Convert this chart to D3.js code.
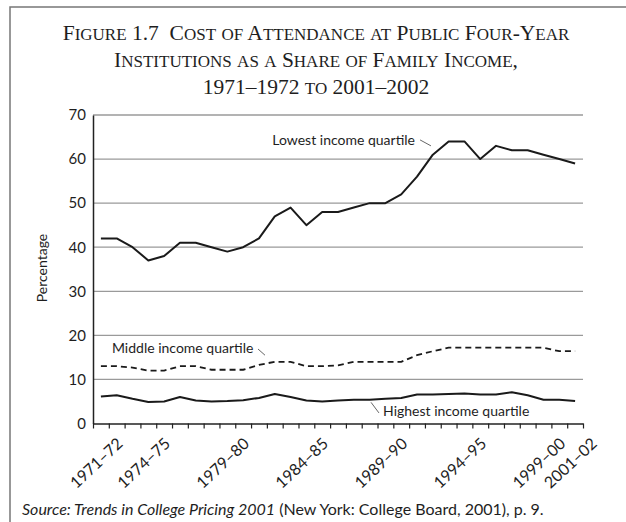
<!DOCTYPE html>
<html>
<head>
<meta charset="utf-8">
<script src="https://cdn.jsdelivr.net/npm/d3@7"></script>
<style>
  body { margin: 0; background: #fff; }
  svg text { fill: #1e1e1e; }
</style>
</head>
<body>
<div id="chart-container"></div>
<script>
// school years, 1971-72 .. 2001-02
var years = ["1971–72","1972–73","1973–74","1974–75","1975–76","1976–77","1977–78","1978–79",
    "1979–80","1980–81","1981–82","1982–83","1983–84","1984–85","1985–86","1986–87","1987–88",
    "1988–89","1989–90","1990–91","1991–92","1992–93","1993–94","1994–95","1995–96","1996–97",
    "1997–98","1998–99","1999–00","2000–01","2001–02"];

var lowest = [42,42,40,37,38,41,41,40,39,40,42,47,49,45,48,48,49,50,50,52,56,61,64,64,60,63,62,62,61,60,59];
var middle = [13,13,12.7,12,12,13,13,12.2,12.2,12.2,13.3,14,14,13,13,13.2,14,14,14,14,15.5,16.4,17.2,17.2,17.2,17.2,17.2,17.2,17.2,16.4,16.4];
var highest = [6.1,6.4,5.6,4.9,5.0,6.0,5.2,5.0,5.1,5.3,5.8,6.7,6.0,5.2,5.0,5.2,5.4,5.4,5.6,5.8,6.6,6.6,6.7,6.8,6.6,6.6,7.1,6.4,5.4,5.4,5.1];

var yTicks = [0,10,20,30,40,50,60,70];
var labelYears = ["1971–72","1974–75","1979–80","1984–85","1989–90","1994–95","1999–00","2001–02"];

var titleLines = ["Figure 1.7  Cost of Attendance at Public Four-Year",
    "Institutions as a Share of Family Income,",
    "1971–1972 to 2001–2002"];

var width = 626, height = 522;

var svg = d3.select("#chart-container")
    .append("svg")
    .attr("width", width)
    .attr("height", height);

// frame (top and left rule)
svg.append("path")
    .attr("d", "M10,522V7H626")
    .attr("fill", "none")
    .attr("stroke", "#777")
    .attr("stroke-width", 1.5);

// title, hand made small caps: lowercase runs set as smaller capitals
function smallCaps(sel, str) {
    var runs = str.match(/[a-z]+|[^a-z]+/g);
    runs.forEach(function(r) {
        var lower = /[a-z]/.test(r);
        sel.append("tspan")
            .style("font-size", lower ? "17px" : "21.5px")
            .text(r.toUpperCase());
    });
}

svg.selectAll("text.title")
    .data(titleLines)
    .enter().append("text")
    .attr("class", "title")
    .attr("x", 316)
    .attr("y", function(d, i) { return 40 + i * 27; })
    .attr("text-anchor", "middle")
    .style("white-space", "pre")
    .style("font-family", "'Liberation Serif', 'Times New Roman', serif")
    .style("font-size", "21.5px")
    .each(function(d) { smallCaps(d3.select(this), d); });

var x = d3.scaleLinear()
    .domain([0, years.length])
    .range([93, 583]);

var y = d3.scaleLinear()
    .domain([0, 70])
    .range([423.5, 115]);

function xc(i) { return x(i + 0.5); }

// gridlines
svg.append("g")
    .selectAll("line")
    .data(yTicks.filter(function(d) { return d > 0; }))
    .enter().append("line")
    .attr("x1", x(0)).attr("x2", x(years.length))
    .attr("y1", function(d) { return y(d); })
    .attr("y2", function(d) { return y(d); })
    .attr("stroke", "#9a9a9a")
    .attr("stroke-width", 1.3);

// y axis
var yAxis = d3.axisLeft(y).tickValues(yTicks).tickSize(0).tickPadding(7);
var gy = svg.append("g")
    .attr("class", "y-axis")
    .attr("transform", "translate(" + x(0) + ",0)")
    .call(yAxis);
gy.select(".domain").attr("stroke", "#222").attr("stroke-width", 1.5);
gy.selectAll("text")
    .style("font-family", "Lato, sans-serif")
    .style("font-size", "15px")
    .attr("fill", "#1e1e1e");

// x axis: ticks on the year boundaries
var xAxis = d3.axisBottom(x)
    .tickValues(d3.range(years.length + 1))
    .tickFormat("")
    .tickSize(5)
    .tickSizeOuter(0);
var gx = svg.append("g")
    .attr("class", "x-axis")
    .attr("transform", "translate(0," + y(0) + ")")
    .call(xAxis);
gx.select(".domain").attr("stroke", "#222").attr("stroke-width", 1.5);
gx.selectAll(".tick line").attr("stroke", "#222").attr("stroke-width", 1.2);

svg.append("g")
    .selectAll("text")
    .data(labelYears)
    .enter().append("text")
    .attr("transform", function(d) {
        return "translate(" + (xc(years.indexOf(d)) + 23) + ",445) rotate(-43)";
    })
    .attr("text-anchor", "end")
    .style("font-family", "Lato, sans-serif")
    .style("font-size", "16px")
    .text(function(d) { return d; });

// y axis title
svg.append("text")
    .attr("transform", "translate(47,268) rotate(-90)")
    .attr("text-anchor", "middle")
    .style("font-family", "Lato, sans-serif")
    .style("font-size", "14px")
    .text("Percentage");

// lines
var line = d3.line()
    .x(function(d, i) { return xc(i); })
    .y(function(d) { return y(d); });

svg.append("path").datum(lowest)
    .attr("fill", "none").attr("stroke", "#1a1a1a").attr("stroke-width", 2)
    .attr("stroke-linejoin", "round")
    .attr("d", line);

svg.append("path").datum(middle)
    .attr("fill", "none").attr("stroke", "#1a1a1a").attr("stroke-width", 1.8)
    .attr("stroke-dasharray", "6,4")
    .attr("d", line);

svg.append("path").datum(highest)
    .attr("fill", "none").attr("stroke", "#1a1a1a").attr("stroke-width", 2)
    .attr("stroke-linejoin", "round")
    .attr("d", line);

// series labels with leader ticks (index, value units)
var labels = [
    {text: "Lowest income quartile", xi: 20.37, v: 63.2, anchor: "end", l1: [20.69, 64.35], l2: [21.38, 63.0]},
    {text: "Middle income quartile", xi: 1.2, v: 16.0, anchor: "start", l1: [10.44, 16.9], l2: [10.88, 15.5]},
    {text: "Highest income quartile", xi: 18.35, v: 1.7, anchor: "start", l1: [17.59, 4.8], l2: [18.09, 2.4]}
];

var gl = svg.append("g").selectAll("g").data(labels).enter().append("g");
gl.append("text")
    .attr("x", function(d) { return x(d.xi); })
    .attr("y", function(d) { return y(d.v); })
    .attr("text-anchor", function(d) { return d.anchor; })
    .style("font-family", "Lato, sans-serif")
    .style("font-size", "14px")
    .text(function(d) { return d.text; });
gl.append("line")
    .attr("x1", function(d) { return x(d.l1[0]); })
    .attr("y1", function(d) { return y(d.l1[1]); })
    .attr("x2", function(d) { return x(d.l2[0]); })
    .attr("y2", function(d) { return y(d.l2[1]); })
    .attr("stroke", "#666").attr("stroke-width", 1);

// source note
var src = svg.append("text")
    .attr("x", 22).attr("y", 515)
    .style("font-family", "Lato, sans-serif")
    .style("font-size", "16px");
src.append("tspan").style("font-style", "italic").text("Source: Trends in College Pricing 2001");
src.append("tspan").text(" (New York: College Board, 2001), p. 9.");
</script>
</body>
</html>
